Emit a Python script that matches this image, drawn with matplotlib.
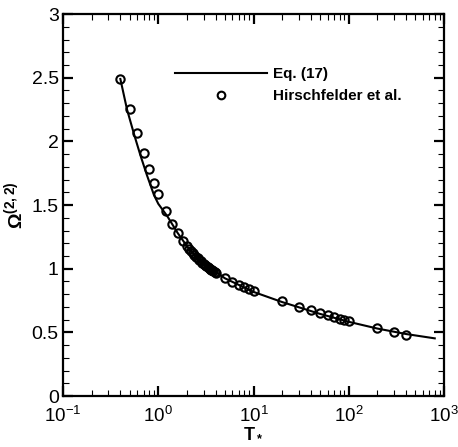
"""
Collision integral Omega(2,2): Eq. (17) against Hirschfelder et al. table
"""

import numpy as np
import matplotlib
matplotlib.use('Agg')
import matplotlib.pyplot as plt
from matplotlib.ticker import MultipleLocator, LogLocator, LogFormatterMathtext

plt.rcParams['font.family'] = ['Liberation Sans', 'DejaVu Sans']
plt.rcParams['mathtext.fontset'] = 'custom'
plt.rcParams['mathtext.rm'] = 'Liberation Sans'
plt.rcParams['mathtext.bf'] = 'Liberation Sans:bold'
plt.rcParams['mathtext.it'] = 'Liberation Sans:italic'

# Eq. (17) curve
t_eq = [0.4, 0.47, 0.56, 0.65, 0.76, 0.9, 1.0, 1.25, 1.6, 2.05, 2.74, 3.2,
        5.0, 10.0, 20.0, 50.0, 100.0, 200.0, 400.0, 800.0]
omega_eq = [2.49, 2.25, 2.05, 1.89, 1.735, 1.58, 1.51, 1.41, 1.28, 1.166, 1.063, 1.03,
            0.925, 0.818, 0.738, 0.645, 0.583, 0.53, 0.487, 0.453]

# Hirschfelder et al. tabulated values
t_hir = [0.4, 0.5, 0.6, 0.7, 0.8, 0.9, 1.0, 1.2, 1.4, 1.6, 1.8,
         2.0, 2.1, 2.2, 2.3, 2.4, 2.5, 2.6, 2.7, 2.8, 2.9, 3.0,
         3.1, 3.2, 3.3, 3.4, 3.5, 3.6, 3.7, 3.8, 3.9, 4.0,
         5.0, 6.0, 7.0, 8.0, 9.0, 10.0, 20.0, 30.0, 40.0, 50.0,
         60.0, 70.0, 80.0, 90.0, 100.0, 200.0, 300.0, 400.0]
omega_hir = [2.492, 2.257, 2.065, 1.908, 1.780, 1.675, 1.587, 1.452, 1.353, 1.279, 1.221,
             1.175, 1.156, 1.138, 1.122, 1.107, 1.093, 1.081, 1.069, 1.058, 1.048, 1.039,
             1.030, 1.022, 1.014, 1.007, 0.9999, 0.9932, 0.9870, 0.9811, 0.9755, 0.9700,
             0.9269, 0.8963, 0.8727, 0.8538, 0.8379, 0.8242, 0.7432, 0.7005, 0.6718, 0.6504,
             0.6335, 0.6194, 0.6076, 0.5973, 0.5882, 0.5320, 0.5016, 0.4811]

fig = plt.figure(figsize=(4.58, 4.47), dpi=100)
ax = fig.add_axes([0.1376, 0.114, 0.8318, 0.8546])

ax.plot(t_eq, omega_eq, color='black', linewidth=1.5, label='Eq. (17)')
ax.plot(t_hir, omega_hir, linestyle='none', marker='o', markersize=6,
        markerfacecolor='none', markeredgecolor='black', markeredgewidth=1.5,
        label='Hirschfelder et al.')

ax.set_xscale('log')
ax.set_xlim(0.1, 1000)
ax.set_ylim(0, 3)
ax.yaxis.set_major_locator(MultipleLocator(0.5))
ax.yaxis.set_minor_locator(MultipleLocator(0.1))
ax.xaxis.set_major_locator(LogLocator(base=10))
ax.xaxis.set_minor_locator(LogLocator(base=10, subs=np.arange(2, 10)))
ax.xaxis.set_major_formatter(LogFormatterMathtext())
ax.yaxis.set_major_formatter(plt.FuncFormatter(lambda v, p: f'{v:g}'))

for side in ax.spines.values():
    side.set_linewidth(1.6)
ax.tick_params(which='both', direction='in', top=True, right=True, labelsize=14)
ax.tick_params(axis='y', pad=3)
ax.tick_params(axis='x', pad=7, labelsize=13.5)
ax.tick_params(which='major', length=7, width=1.6)
ax.tick_params(which='minor', length=4, width=0.8)

ax.set_xlabel(r'$\mathbf{T_*}$', fontsize=13, labelpad=-1)
ax.set_ylabel(r'$\mathbf{\Omega^{(2,2)}}$', fontsize=14, labelpad=4)

leg = ax.legend(loc='center left', bbox_to_anchor=(0.294, 0.814), frameon=False,
                borderpad=0, borderaxespad=0, handlelength=6.0, handletextpad=0.4,
                labelspacing=0.5, prop={'weight': 'bold', 'size': 11})
leg.legend_handles[1].set_markersize(5.5)

plt.savefig('out.png', dpi=100)
